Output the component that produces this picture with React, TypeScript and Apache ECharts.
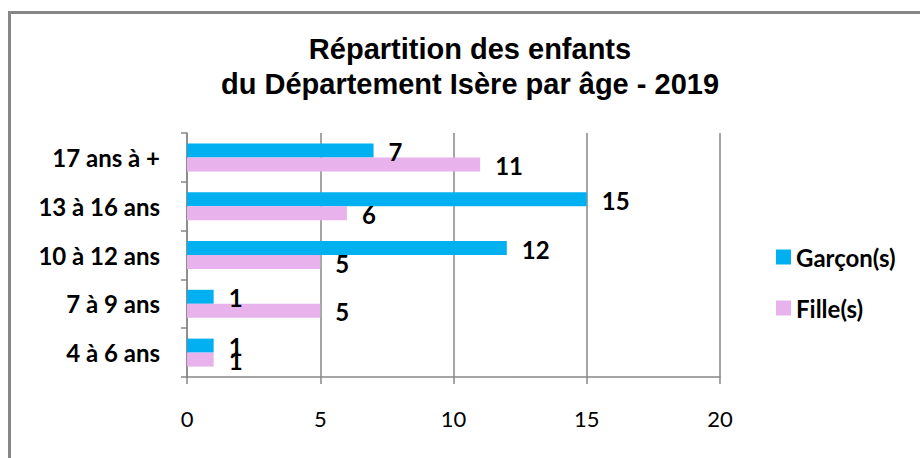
import React, { useEffect, useRef } from "react";
import * as echarts from "echarts";

const categories = ["4 à 6 ans", "7 à 9 ans", "10 à 12 ans", "13 à 16 ans", "17 ans à +"];
const garcons = [1, 1, 12, 15, 7];
const filles = [1, 5, 5, 6, 11];
const seriesNames = ["Garçon(s)", "Fille(s)"];
const titleLines = ["Répartition des enfants", "du Département Isère par âge - 2019"];

const BLUE = "#00B0F0";
const PINK = "#E8B2EC";
const GREY = "#878787";
const LABEL_FONT = "Lato";

export default function App() {
  const ref = useRef<HTMLDivElement>(null);
  useEffect(() => {
    if (!ref.current) return;
    const chart = echarts.init(ref.current, undefined, { renderer: "svg" });
    const valueLabel = {
      show: true,
      position: "right",
      distance: 15,
      offset: [0, 1],
      fontFamily: LABEL_FONT,
      fontWeight: "bold",
      fontSize: 24,
      color: "#000",
    };
    chart.setOption({
      animation: false,
      backgroundColor: "#fff",
      title: {
        text: titleLines.join("\n"),
        left: 470,
        top: 31,
        padding: 0,
        textAlign: "center",
        textStyle: {
          fontFamily: "Liberation Sans",
          fontWeight: "bold",
          fontSize: 29,
          lineHeight: 35,
          color: "#000",
        },
      },
      graphic: [
        {
          type: "rect",
          shape: { x: 9.5, y: 12.5, width: 2000, height: 2000 },
          style: { fill: "none", stroke: GREY, lineWidth: 3 },
          silent: true,
        },
      ],
      legend: {
        data: seriesNames,
        orient: "vertical",
        left: 776,
        top: 245,
        itemWidth: 15,
        itemHeight: 15,
        itemGap: 27,
        icon: "rect",
        padding: 0,
        textStyle: {
          fontFamily: LABEL_FONT,
          fontWeight: "bold",
          fontSize: 24,
          color: "#000",
        },
      },
      grid: { left: 187, right: 200, top: 133, bottom: 81, containLabel: false },
      xAxis: {
        type: "value",
        min: 0,
        max: 20,
        interval: 5,
        axisLine: { show: true, lineStyle: { color: GREY, width: 1.5 } },
        axisTick: { show: true, length: 7, lineStyle: { color: GREY, width: 1.5 } },
        splitLine: { show: true, lineStyle: { color: GREY, width: 1.5 } },
        axisLabel: {
          margin: 30,
          fontFamily: LABEL_FONT,
          fontSize: 22,
          color: "#000",
        },
      },
      yAxis: {
        type: "category",
        data: categories,
        axisLine: { show: true, lineStyle: { color: GREY, width: 1.5 } },
        axisTick: { show: true, length: 6, lineStyle: { color: GREY, width: 1.5 } },
        axisLabel: {
          margin: 27,
          fontFamily: LABEL_FONT,
          fontWeight: "bold",
          fontSize: 24,
          color: "#000",
        },
      },
      series: [
        {
          name: seriesNames[0],
          type: "bar",
          data: garcons,
          barWidth: 14,
          barGap: "0%",
          itemStyle: { color: BLUE },
          label: valueLabel,
        },
        {
          name: seriesNames[1],
          type: "bar",
          data: filles,
          barWidth: 14,
          barGap: "0%",
          itemStyle: { color: PINK },
          label: valueLabel,
        },
      ],
    });
    return () => chart.dispose();
  }, []);
  return (
    <div
      ref={ref}
      style={{ position: "absolute", left: 0, top: 0, width: 920, height: 458, background: "#fff" }}
    />
  );
}
